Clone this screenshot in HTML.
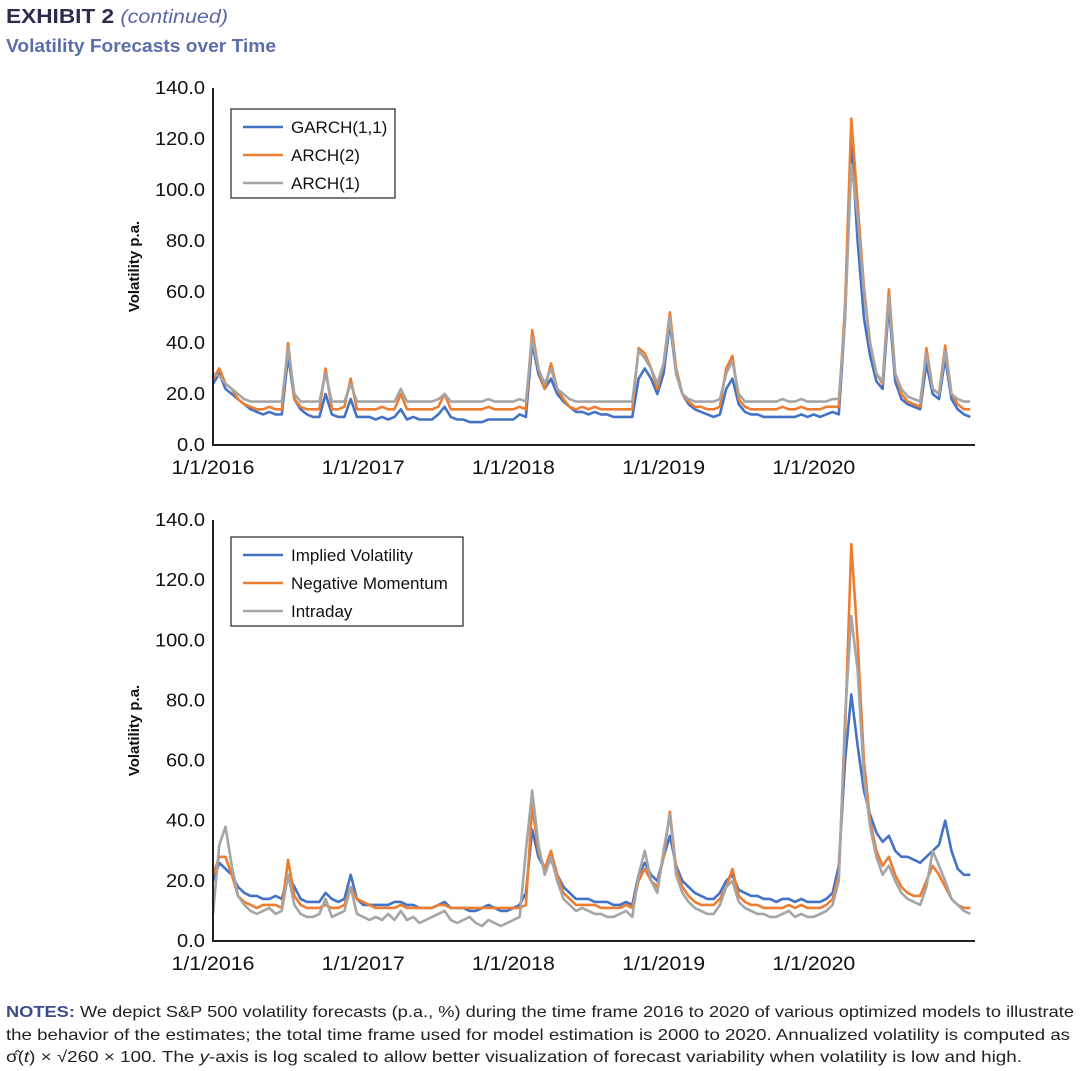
<!DOCTYPE html>
<html><head><meta charset="utf-8"><style>
html,body{margin:0;padding:0;background:#fff;}
svg{display:block;font-family:"Liberation Sans",sans-serif;}
</style></head><body>
<svg id="root" width="1080" height="1071" viewBox="0 0 1080 1071">
<text x="6" y="23" font-size="20" font-weight="bold" fill="#2b2c4e" textLength="222" lengthAdjust="spacingAndGlyphs">EXHIBIT 2 <tspan font-weight="normal" font-style="italic" fill="#5a68a8" font-size="19">(continued)</tspan></text>
<text x="6" y="52" font-size="18" font-weight="bold" fill="#5b6ea9" textLength="270" lengthAdjust="spacingAndGlyphs">Volatility Forecasts over Time</text>
<g id="top"></g>
<g id="bot"></g>
<g font-size="16" fill="#222">
<text x="6" y="1017" textLength="1068" lengthAdjust="spacingAndGlyphs"><tspan font-weight="bold" fill="#3b4a8a">NOTES:</tspan> We depict S&amp;P 500 volatility forecasts (p.a., %) during the time frame 2016 to 2020 of various optimized models to illustrate</text>
<text x="6" y="1040" textLength="1064" lengthAdjust="spacingAndGlyphs">the behavior of the estimates; the total time frame used for model estimation is 2000 to 2020. Annualized volatility is computed as</text>
<text x="6" y="1062" textLength="1016" lengthAdjust="spacingAndGlyphs">σ̂(<tspan font-style="italic">t</tspan>) × √260 × 100. The <tspan font-style="italic">y</tspan>-axis is log scaled to allow better visualization of forecast variability when volatility is low and high.</text>
</g>
</svg>
<script>
const yTicks=[0,20,40,60,80,100,120,140];
const xTickLabels=["1/1/2016","1/1/2017","1/1/2018","1/1/2019","1/1/2020"];
const xTickYears=[2016,2017,2018,2019,2020];
const pointsPerYear=24;
const topNames=["GARCH(1,1)","ARCH(2)","ARCH(1)"];
const botNames=["Implied Volatility","Negative Momentum","Intraday"];
const garch11=[24,28,22,20,18,16,14,13,12,13,12,12,
35,18,14,12,11,11,20,12,11,11,18,11,
11,11,10,11,10,11,14,10,11,10,10,10,12,15,11,10,10,9,9,9,10,10,10,10,
10,12,11,40,28,22,26,20,17,15,13,13,12,13,12,12,11,11,11,11,26,30,26,20,
28,48,28,20,16,14,13,12,11,12,22,26,16,13,12,12,11,11,11,11,11,11,12,11,
12,11,12,13,12,50,120,80,50,35,25,22,55,25,18,16,15,14,32,20,18,34,18,14,12,11];
const arch2=[26,30,24,22,18,16,15,14,14,15,14,14,
40,18,15,14,14,14,30,14,14,15,26,14,
14,14,14,15,14,14,20,14,14,14,14,14,15,20,14,14,14,14,14,14,15,14,14,14,
14,15,14,45,30,22,32,22,18,15,14,15,14,15,14,14,14,14,14,14,38,36,30,22,
32,52,30,20,17,15,15,14,14,15,30,35,18,15,14,14,14,14,14,15,14,14,15,14,
14,14,15,15,15,55,128,95,62,40,28,24,61,28,20,17,16,15,38,22,20,39,20,16,14,14];
const arch1=[28,27,24,22,20,18,17,17,17,17,17,17,
38,20,17,17,17,17,28,17,17,17,24,17,
17,17,17,17,17,17,22,17,17,17,17,17,18,20,17,17,17,17,17,17,18,17,17,17,
17,18,17,42,30,24,30,22,20,18,17,17,17,17,17,17,17,17,17,17,37,34,30,24,
32,50,28,20,18,17,17,17,17,18,28,33,20,17,17,17,17,17,17,18,17,17,18,17,
17,17,17,18,18,50,110,90,60,40,28,25,58,28,22,19,18,17,36,22,20,37,20,18,17,17];
const impliedVol=[20,26,24,22,18,16,15,15,14,14,15,14,
22,18,14,13,13,13,16,14,13,14,22,14,
12,12,12,12,12,13,13,12,12,11,11,11,12,13,11,11,11,10,10,11,12,11,10,10,
11,12,16,37,28,24,27,22,18,16,14,14,14,13,13,13,12,12,13,12,22,26,22,20,
28,35,25,20,18,16,15,14,14,16,20,22,17,16,15,15,14,14,13,14,14,13,14,13,
13,13,14,16,25,60,82,65,50,42,36,33,35,30,28,28,27,26,28,30,32,40,30,24,22,22];
const negMomentum=[22,28,28,22,15,13,12,11,12,12,12,11,
27,15,12,11,11,11,12,11,11,12,18,14,
13,12,11,11,11,11,12,11,11,11,11,11,12,12,11,11,11,11,11,11,11,11,11,11,
11,11,12,45,30,24,30,22,16,14,12,12,12,12,11,11,11,11,12,11,20,24,20,18,
28,43,24,18,15,13,12,12,12,14,18,24,15,13,12,12,11,11,11,11,12,11,12,11,
11,11,12,14,22,70,132,100,60,40,30,25,28,22,18,16,15,15,20,25,22,18,14,12,11,11];
const intraday=[9,32,38,25,15,12,10,9,10,11,9,10,
22,12,9,8,8,9,14,8,9,10,18,9,
8,7,8,7,9,7,10,7,8,6,7,8,9,10,7,6,7,8,6,5,7,6,5,6,
7,8,30,50,32,22,28,20,14,12,10,11,10,9,9,8,8,9,10,8,22,30,20,16,
30,42,22,16,13,11,10,9,9,12,18,20,13,11,10,9,9,8,8,9,10,8,9,8,
8,9,10,12,20,75,108,90,55,38,28,22,25,20,16,14,13,12,18,30,25,20,14,12,10,9];
const colors=["#4472C4","#ED7D31","#A5A5A5"];
const NS="http://www.w3.org/2000/svg";
function mk(tag,attrs,parent){const e=document.createElementNS(NS,tag);for(const k in attrs)e.setAttribute(k,attrs[k]);parent.appendChild(e);return e;}
function draw(g,cfg,series,names){
  const x0=213,x1=975,yr=150.2;
  const xs=t=>x0+(t-2016)*yr;
  const ys=v=>cfg.yb-(v/140)*(cfg.yb-cfg.yt);
  yTicks.forEach(v=>{
    const s=v.toFixed(1);
    const w=s.length===5?50:(s.length===4?39:28);
    const t=mk("text",{x:205,y:ys(v)+6,"text-anchor":"end","font-size":"18",fill:"#111",textLength:w,lengthAdjust:"spacingAndGlyphs"},g);
    
    
    t.textContent=s;
  });
  xTickYears.forEach((yv,i)=>{
    const t=mk("text",{x:xs(yv),y:cfg.yb+29,"text-anchor":"middle","font-size":"19",fill:"#111",textLength:83,lengthAdjust:"spacingAndGlyphs"},g);
    
    
    t.textContent=xTickLabels[i];
  });
  const yt=mk("text",{transform:`translate(139,${(cfg.yt+cfg.yb)/2}) rotate(-90)`,"text-anchor":"middle","font-size":"15","font-weight":"bold",fill:"#111"},g);
  
  
  yt.textContent="Volatility p.a.";
  series.forEach((s,k)=>{
    const d=s.map((v,i)=>(i?"L":"M")+xs(2016+i/pointsPerYear).toFixed(1)+","+ys(v).toFixed(1)).join("");
    const p=mk("path",{d:d,fill:"none",stroke:colors[k],"stroke-width":"2.6","stroke-linejoin":"round"},g);
    
    
  });
  const ax=mk("path",{d:`M${x0},${cfg.yt}V${cfg.yb}H${x1}`,fill:"none",stroke:"#222","stroke-width":"2"},g);
  
  
  const lg=mk("g",{},g);
  
  
  mk("rect",{x:231,y:cfg.ly,width:cfg.lw,height:89,fill:"#fff",stroke:"#222","stroke-width":"1.2"},lg);
  names.forEach((n,k)=>{
    const yy=cfg.ly+18+k*28;
    const it=mk("g",{},lg);
    
    
    mk("line",{x1:243,x2:283,y1:yy,y2:yy,stroke:colors[k],"stroke-width":"2.6"},it);
    const t=mk("text",{x:291,y:yy+6,"font-size":"17",fill:"#111"},it);
    t.textContent=n;
  });
}
draw(document.getElementById("top"),{yt:88,yb:445,ly:109,lw:164},[garch11,arch2,arch1],topNames);
draw(document.getElementById("bot"),{yt:520,yb:941,ly:537,lw:232},[impliedVol,negMomentum,intraday],botNames);
</script>
</body></html>
